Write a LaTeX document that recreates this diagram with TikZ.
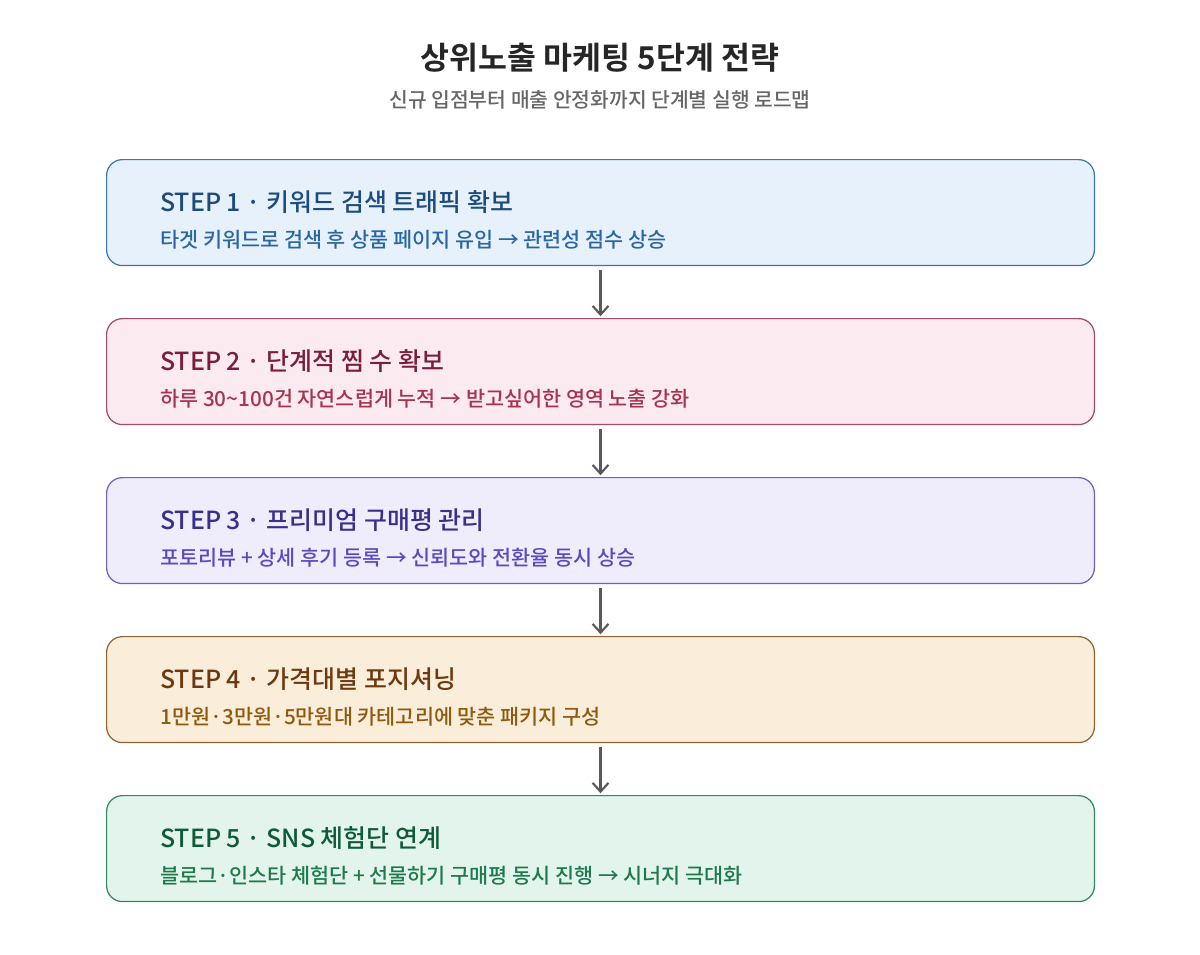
\documentclass[tikz,border=0pt]{standalone}
\usepackage{fontspec}
\setmainfont{Noto Sans CJK KR}
\newfontfamily\krb{Noto Sans CJK KR Bold}
\newfontfamily\krm{Noto Sans CJK KR Medium}
\usetikzlibrary{arrows.meta}
\definecolor{f1}{HTML}{E7F1FB}\definecolor{b1}{HTML}{3A76B0}\definecolor{t1}{HTML}{1D4C7C}\definecolor{d1}{HTML}{2A66A6}
\definecolor{f2}{HTML}{FBEAF0}\definecolor{b2}{HTML}{A8486E}\definecolor{t2}{HTML}{7A1E3E}\definecolor{d2}{HTML}{A8324F}
\definecolor{f3}{HTML}{EFECFB}\definecolor{b3}{HTML}{6E60C8}\definecolor{t3}{HTML}{3B2F8C}\definecolor{d3}{HTML}{5A4AC2}
\definecolor{f4}{HTML}{FAEEDB}\definecolor{b4}{HTML}{94622E}\definecolor{t4}{HTML}{6B3A10}\definecolor{d4}{HTML}{8E5A0E}
\definecolor{f5}{HTML}{E2F4EB}\definecolor{b5}{HTML}{2E8B5E}\definecolor{t5}{HTML}{0F5A3A}\definecolor{d5}{HTML}{1E7A4C}
\begin{document}
\begin{tikzpicture}[x=0.02cm,y=-0.02cm,
  stepbox/.style={draw,line width=0.7pt,rounded corners=9pt,minimum width=19.76cm,minimum height=2.12cm,anchor=north west,inner sep=0},
  ttl/.style={anchor=base west,inner sep=0,font=\krm\fontsize{14.2}{16}\selectfont},
  dsc/.style={anchor=base west,inner sep=0,font=\krm\fontsize{11.8}{14}\selectfont},
  arr/.style={draw=black!65,line width=1.2pt,-{Straight Barb[length=5pt,width=9pt]}}]
\useasboundingbox (0,0) rectangle (1200,954);
\node[font=\krb\fontsize{17.9}{20}\selectfont,text=black!85] (title) at (600,58) {상위노출 마케팅 5단계 전략};
\node[font=\krm\fontsize{11.6}{13}\selectfont,text=black!60] (sub) at (600,100) {신규 입점부터 매출 안정화까지 단계별 실행 로드맵};
\foreach \i/\y/\t/\d in {
 1/159/STEP 1 · 키워드 검색 트래픽 확보/타겟 키워드로 검색 후 상품 페이지 유입 → 관련성 점수 상승,
 2/318/STEP 2 · 단계적 찜 수 확보/하루 30\textasciitilde100건 자연스럽게 누적 → 받고싶어한 영역 노출 강화,
 3/477/STEP 3 · 프리미엄 구매평 관리/포토리뷰 + 상세 후기 등록 → 신뢰도와 전환율 동시 상승,
 4/636/STEP 4 · 가격대별 포지셔닝/1만원·3만원·5만원대 카테고리에 맞춘 패키지 구성,
 5/795/STEP 5 · SNS 체험단 연계/블로그·인스타 체험단 + 선물하기 구매평 동시 진행 → 시너지 극대화}{
  \node[stepbox,draw=b\i,fill=f\i] (box\i) at (106,\y) {};
  \node[ttl,text=t\i] (t\i) at (160,\y+52) {\t};
  \node[dsc,text=d\i] (d\i) at (160,\y+88) {\d};
}
\foreach \a/\b in {1/2,2/3,3/4,4/5}{
  \draw[arr] ([yshift=-2pt]box\a.south) -- ([yshift=1pt]box\b.north);
}
\end{tikzpicture}
\end{document}
